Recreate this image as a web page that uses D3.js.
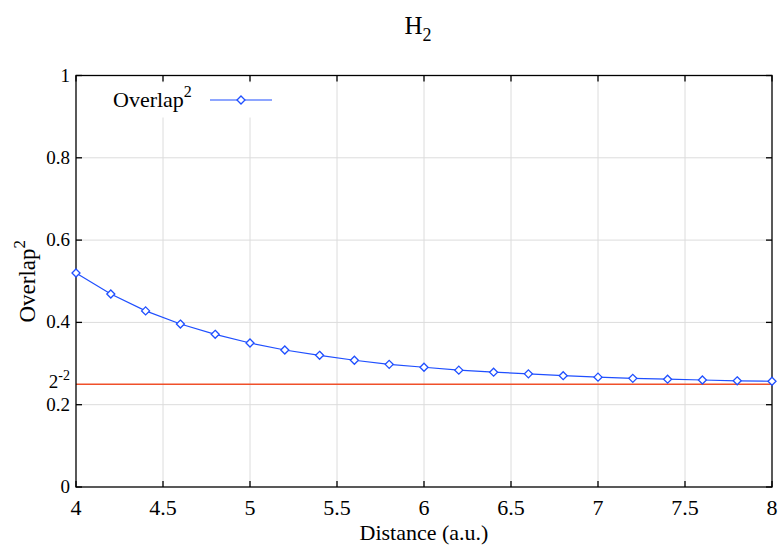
<!DOCTYPE html>
<html>
    <head>
        <meta charset="utf-8">
        <style>
            body {
                background-color: white;
                margin: 0;
                padding: 0;
            }
            svg {
                display: block;
            }
        </style>
        <script src="https://cdn.jsdelivr.net/npm/d3@7"></script>
    </head>
    <body>
        <svg width="780" height="546" font-family="'Liberation Serif', 'DejaVu Serif', serif"></svg>

        <script>
            // data
            const distance = [4.0, 4.2, 4.4, 4.6, 4.8, 5.0, 5.2, 5.4, 5.6, 5.8, 6.0,
                              6.2, 6.4, 6.6, 6.8, 7.0, 7.2, 7.4, 7.6, 7.8, 8.0];
            const overlap2 = [0.520, 0.469, 0.428, 0.396, 0.371, 0.350, 0.333, 0.320, 0.308, 0.298, 0.291,
                              0.284, 0.279, 0.275, 0.2705, 0.267, 0.264, 0.262, 0.260, 0.258, 0.257];
            const xTicks = [4, 4.5, 5, 5.5, 6, 6.5, 7, 7.5, 8];
            const yTicks = [0, 0.2, 0.4, 0.6, 0.8, 1];
            const refLevel = 0.25;   // 2^-2

            const svg = d3.select("svg");
            // plot box (named so as not to clash with window.top)
            const box = { left: 76, right: 772, top: 75.5, bottom: 487 };

            const x = d3.scaleLinear().domain([4, 8]).range([box.left, box.right]);
            const y = d3.scaleLinear().domain([0, 1]).range([box.bottom, box.top]);

            // grid
            const grid = svg.append("g").attr("stroke", "#dcdcdc").attr("stroke-width", 1);
            grid.selectAll(".gx")
                .data(xTicks.filter(d => d > 4 && d < 8))
                .enter().append("line")
                .attr("x1", d => x(d)).attr("x2", d => x(d))
                .attr("y1", box.top).attr("y2", box.bottom);
            grid.selectAll(".gy")
                .data(yTicks.filter(d => d > 0 && d < 1))
                .enter().append("line")
                .attr("x1", box.left).attr("x2", box.right)
                .attr("y1", d => y(d)).attr("y2", d => y(d));

            // legend box hides the grid behind it
            svg.append("rect")
                .attr("x", 100).attr("y", box.top + 7)
                .attr("width", 185).attr("height", 35)
                .attr("fill", "white");

            // reference line at 2^-2
            svg.append("line")
                .attr("x1", box.left).attr("x2", box.right)
                .attr("y1", y(refLevel)).attr("y2", y(refLevel))
                .attr("stroke", "#f0502a").attr("stroke-width", 1.5);

            // frame with inward ticks
            const frame = svg.append("g").attr("stroke", "black").attr("stroke-width", 1.3);
            frame.append("rect")
                .attr("x", box.left).attr("y", box.top)
                .attr("width", box.right - box.left).attr("height", box.bottom - box.top)
                .attr("fill", "none");
            xTicks.forEach(t => {
                frame.append("line").attr("x1", x(t)).attr("x2", x(t)).attr("y1", box.bottom).attr("y2", box.bottom - 6);
                frame.append("line").attr("x1", x(t)).attr("x2", x(t)).attr("y1", box.top).attr("y2", box.top + 6);
            });
            yTicks.forEach(t => {
                frame.append("line").attr("x1", box.left).attr("x2", box.left + 6).attr("y1", y(t)).attr("y2", y(t));
                frame.append("line").attr("x1", box.right).attr("x2", box.right - 6).attr("y1", y(t)).attr("y2", y(t));
            });

            // tick labels
            svg.selectAll(".xl")
                .data(xTicks)
                .enter().append("text")
                .attr("x", d => x(d))
                .attr("y", box.bottom + 28)
                .attr("text-anchor", "middle")
                .attr("font-size", "22px")
                .text(d => d3.format("")(d));
            svg.selectAll(".yl")
                .data(yTicks)
                .enter().append("text")
                .attr("x", box.left - 6)
                .attr("y", d => y(d) + 6)
                .attr("text-anchor", "end")
                .attr("font-size", "19px")
                .text(d => d3.format("")(d));

            // 2^-2 label
            let ref = svg.append("text")
                .attr("x", box.left - 6)
                .attr("y", y(refLevel) + 4)
                .attr("text-anchor", "end")
                .attr("font-size", "19px");
            ref.append("tspan").text("2");
            ref.append("tspan").attr("dy", -8).attr("font-size", "14px").text("-2");

            // data line + diamonds
            const line = d3.line()
                .x((d, i) => x(distance[i]))
                .y(d => y(d));
            svg.append("path")
                .datum(overlap2)
                .attr("d", line)
                .attr("fill", "none")
                .attr("stroke", "#1f4fff")
                .attr("stroke-width", 1.2);

            const diamond = (cx, cy) => `M${cx},${cy - 4}L${cx + 4},${cy}L${cx},${cy + 4}L${cx - 4},${cy}Z`;
            svg.selectAll(".pt")
                .data(overlap2)
                .enter().append("path")
                .attr("d", (d, i) => diamond(x(distance[i]), y(d)))
                .attr("fill", "white")
                .attr("stroke", "#1f4fff")
                .attr("stroke-width", 1.3);

            // legend
            let legText = svg.append("text")
                .attr("x", 113).attr("y", 107)
                .attr("font-size", "22px");
            legText.append("tspan").text("Overlap");
            legText.append("tspan").attr("dy", -10).attr("font-size", "16px").text("2");
            svg.append("line")
                .attr("x1", 210).attr("x2", 272).attr("y1", 100).attr("y2", 100)
                .attr("stroke", "#1f4fff").attr("stroke-width", 1.2);
            svg.append("path")
                .attr("d", diamond(241, 100))
                .attr("fill", "white")
                .attr("stroke", "#1f4fff")
                .attr("stroke-width", 1.3);

            // title
            let title = svg.append("text")
                .attr("x", 418).attr("y", 34)
                .attr("text-anchor", "middle")
                .attr("font-size", "25px");
            title.append("tspan").text("H");
            title.append("tspan").attr("dy", 7).attr("font-size", "18px").text("2");

            // axis labels
            svg.append("text")
                .attr("x", (box.left + box.right) / 2).attr("y", 540)
                .attr("text-anchor", "middle")
                .attr("font-size", "22px")
                .text("Distance (a.u.)");

            let yLab = svg.append("text")
                .attr("transform", `translate(35, ${(box.top + box.bottom) / 2}) rotate(-90)`)
                .attr("text-anchor", "middle")
                .attr("font-size", "23px");
            yLab.append("tspan").text("Overlap");
            yLab.append("tspan").attr("dy", -10).attr("font-size", "17px").text("2");
        </script>
    </body>
</html>
